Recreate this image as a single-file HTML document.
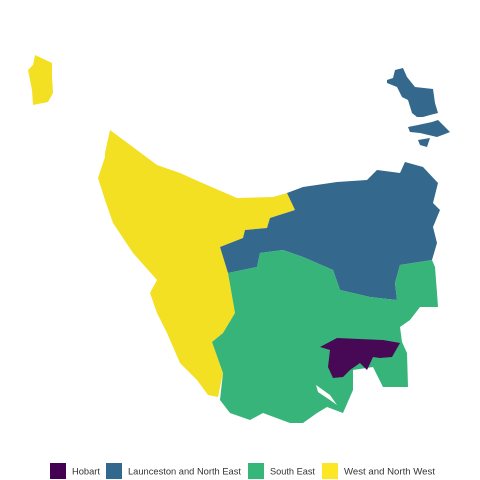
<!DOCTYPE html>
<html><head><meta charset="utf-8"><style>
html,body{margin:0;padding:0;background:#fff;}
svg{display:block;}
text{font-family:"Liberation Sans",sans-serif;font-size:9.5px;fill:#333;}
</style></head><body>
<svg width="480" height="480" viewBox="0 0 480 480">
<g>
<polygon fill="#f3e022" points="105,153 110,130 157,165 180,173 200,182 237,198 273,197 287,193 295,210 270,218 267,228 245,230 243,238 220,247 228,273 235,313 223,333 212,342 223,373 218,397 208,395 197,380 180,363 167,333 157,313 150,293 157,280 133,253 113,223 105,200 98,178 105,157"/>
<polygon fill="#f3e022" points="35,55 52,63 52,77 53,93 48,102 33,105 32,90 28,70 33,65"/>
<polygon fill="#34688d" points="287,193 303,187 337,182 367,180 377,170 400,173 405,162 423,167 438,183 433,203 440,210 433,227 437,243 432,260 400,265 395,283 397,300 370,297 340,290 333,270 303,257 283,250 260,253 257,267 228,273 220,247 243,238 245,230 267,228 270,218 295,210"/>
<polygon fill="#34688d" points="395,70 403,68 407,77 415,87 433,89 435,103 438,113 430,115 423,117 417,117 412,113 408,100 402,97 397,87 387,83 387,80 393,78"/>
<polygon fill="#34688d" points="408,127 418,125 432,122 438,120 450,132 445,134 437,137 420,133 410,132"/>
<polygon fill="#34688d" points="418,140 430,138 427,147 420,145"/>
<polygon fill="#37b479" points="228,273 257,267 260,253 283,250 303,257 333,270 340,290 370,297 397,300 395,283 400,265 432,260 435,267 437,293 438,307 420,307 410,320 400,327 402,342 407,353 408,387 383,387 373,367 353,370 353,390 343,413 327,407 317,413 303,423 290,423 263,413 250,420 230,413 220,400 223,373 212,342 223,333 235,313"/>
<polygon fill="#fff" points="316,385 330,395 337,405 330,400 318,392"/>
<polygon fill="#470856" points="320,347 337,338 383,340 400,343 392,357 380,358 373,357 367,370 360,363 350,370 343,377 333,378 328,367 330,350"/>
</g>
<g>
<rect x="50" y="463" width="16" height="16" fill="#440154"/>
<text x="72" y="474.5" textLength="28" lengthAdjust="spacingAndGlyphs">Hobart</text>
<rect x="106" y="463" width="16" height="16" fill="#31688e"/>
<text x="128" y="474.5" textLength="113" lengthAdjust="spacingAndGlyphs">Launceston and North East</text>
<rect x="248" y="463" width="16" height="16" fill="#35b779"/>
<text x="270" y="474.5" textLength="45" lengthAdjust="spacingAndGlyphs">South East</text>
<rect x="322" y="463" width="16" height="16" fill="#fde725"/>
<text x="344" y="474.5" textLength="91" lengthAdjust="spacingAndGlyphs">West and North West</text>
</g>
</svg>
</body></html>
